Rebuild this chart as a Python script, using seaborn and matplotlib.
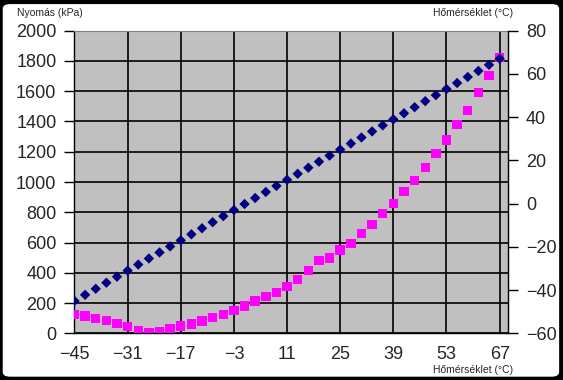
import matplotlib
matplotlib.use('Agg')
import matplotlib.pyplot as plt
import seaborn as sns
from matplotlib.patches import FancyBboxPatch

# Temperature (°C) of each measured point
homerseklet = [-45, -42.2, -39.4, -36.6, -33.8, -31, -28.2, -25.4, -22.6, -19.8,
               -17, -14.2, -11.4, -8.6, -5.8, -3, -0.2, 2.6, 5.4, 8.2,
               11, 13.8, 16.6, 19.4, 22.2, 25, 27.8, 30.6, 33.4, 36.2,
               39, 41.8, 44.6, 47.4, 50.2, 53, 55.8, 58.6, 61.4, 64.2, 67]

# Pressure (kPa)
nyomas = [126, 114, 97, 83, 66, 44, 17, 2, 13, 28,
          48, 61, 82, 106, 125, 152, 180, 213, 244, 271,
          308, 357, 416, 480, 497, 551, 595, 661, 720, 793,
          859, 938, 1011, 1097, 1190, 1278, 1379, 1474, 1590, 1705, 1824]

x_ticks = [-45, -31, -17, -3, 11, 25, 39, 53, 67]
y_ticks_left = list(range(0, 2001, 200))
y_ticks_right = list(range(-60, 81, 20))

sns.set_style('white')
plt.rcParams['font.family'] = ['Liberation Sans', 'DejaVu Sans']

fig = plt.figure(figsize=(5.63, 3.80), dpi=100)
fig.patch.set_facecolor('black')
frame = FancyBboxPatch((0.003, 0.006), 0.992, 0.986,
                       boxstyle='round,pad=0,rounding_size=0.015',
                       transform=fig.transFigure, facecolor='white',
                       edgecolor='black', linewidth=1.5, zorder=-10)
fig.patches.append(frame)

ax = fig.add_axes([0.1323, 0.1229, 0.9023 - 0.1323, 0.9192 - 0.1229])
ax.set_facecolor('#C0C0C0')

# pressure on the primary axis
sns.scatterplot(x=homerseklet, y=nyomas, ax=ax, marker='s', color='#FF00FF',
                s=46, edgecolor='none', linewidth=0, zorder=3)
ax.set_xlim(-45, 69.2)
ax.set_ylim(0, 2000)
ax.set_xticks(x_ticks)
ax.set_yticks(y_ticks_left)
ax.grid(True, color='black', linewidth=1.2)
ax.set_axisbelow(True)
ax.tick_params(axis='x', length=0, pad=9, labelsize=13)
ax.tick_params(axis='y', length=7, width=1, direction='out', pad=6,
               labelsize=13, left=True, color='black')
for side in ['left', 'bottom']:
    ax.spines[side].set_color('black')
    ax.spines[side].set_linewidth(1)
ax.spines['top'].set_color('#808080')
ax.spines['right'].set_color('#808080')

# temperature on the secondary axis
ax2 = ax.twinx()
sns.scatterplot(x=homerseklet, y=homerseklet, ax=ax2, marker='D',
                color='#000080', s=28, edgecolor='none', linewidth=0, zorder=4)
ax2.set_ylim(-60, 80)
ax2.set_yticks(y_ticks_right)
ax2.tick_params(axis='y', length=7, width=1, direction='out', pad=6,
                labelsize=13, right=True, color='black')
ax2.spines['right'].set_color('black')
ax2.spines['right'].set_linewidth(1)
for side in ['top', 'left', 'bottom']:
    ax2.spines[side].set_visible(False)
ax2.grid(False)

fig.text(17 / 563, 1 - 13 / 380, 'Nyomás (kPa)', fontsize=7.5, ha='left', va='center')
fig.text(513 / 563, 1 - 13 / 380, 'Hőmérséklet (°C)', fontsize=7.5, ha='right', va='center')
fig.text(513 / 563, 1 - 370 / 380, 'Hőmérséklet (°C)', fontsize=7.5, ha='right', va='center')

fig.savefig('out.png', dpi=100, facecolor=fig.get_facecolor())
